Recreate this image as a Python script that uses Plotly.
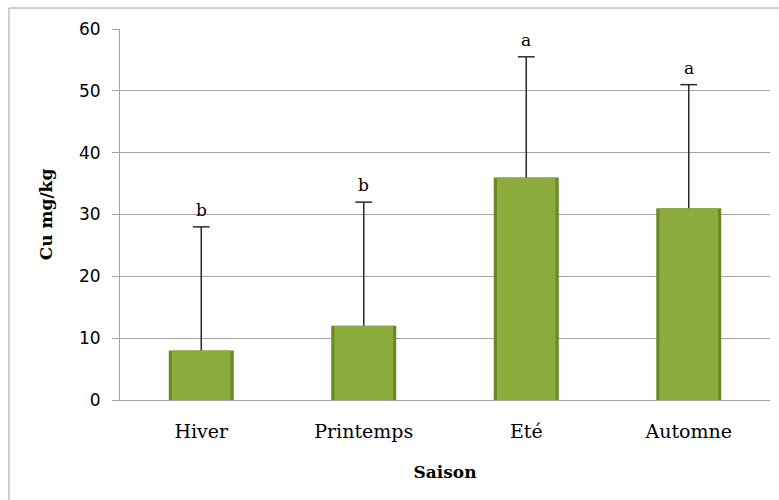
import plotly.graph_objects as go

# Copper concentration by season (mean and upper standard deviation)
seasons = ["Hiver", "Printemps", "Eté", "Automne"]
cu_mean = [8, 12, 36, 31]
cu_err = [20, 20, 19.5, 20]
groups = ["b", "b", "a", "a"]

GRID = "#a3a3a3"
SERIF = "DejaVu Serif"
SANS = "DejaVu Sans"
WHISKER = "#2a2a2a"

upper = [m + e for m, e in zip(cu_mean, cu_err)]

fig = go.Figure()

# darker outer bar gives the bevelled edge, lighter inner bar the face
fig.add_trace(go.Bar(
    x=seasons, y=cu_mean, width=0.4,
    marker=dict(color="#6a8a27", line=dict(width=0)),
    hoverinfo="skip", showlegend=False,
))
fig.add_trace(go.Bar(
    x=seasons, y=cu_mean, width=0.36,
    marker=dict(color="#8cad3d", line=dict(width=0)),
    error_y=dict(type="data", array=cu_err, symmetric=False,
                 arrayminus=[0] * len(cu_err),
                 color=WHISKER, thickness=1.5, width=0),
    showlegend=False,
))

# caps only at the upper end of each whisker
fig.add_trace(go.Scatter(
    x=seasons, y=upper, mode="markers",
    marker=dict(symbol="line-ew", size=12,
                line=dict(color=WHISKER, width=1.5)),
    hoverinfo="skip", showlegend=False,
))

# significance letters above the error bars
for s, u, g in zip(seasons, upper, groups):
    fig.add_annotation(
        x=s, y=u, text=g, showarrow=False,
        yanchor="bottom", yshift=5,
        font=dict(family=SERIF, size=17, color="#000"),
    )

# outer chart frame
fig.add_shape(
    type="rect", xref="paper", yref="paper",
    x0=-0.1708, x1=1.2, y0=-0.5, y1=1.0566,
    line=dict(color="#a0a0a0", width=1), fillcolor="rgba(0,0,0,0)",
    layer="below",
)

fig.update_layout(
    width=779, height=500,
    margin=dict(l=120, r=9, t=29, b=100),
    paper_bgcolor="white", plot_bgcolor="white",
    barmode="overlay", bargap=0.6,
    xaxis=dict(
        showline=True, linecolor=GRID, linewidth=1,
        ticks="", ticklabelstandoff=14,
        tickfont=dict(family=SERIF, size=19, color="#000"),
        title=dict(text="<b>Saison</b>", standoff=25,
                   font=dict(family=SERIF, size=17, color="#000")),
    ),
    yaxis=dict(
        range=[0, 60], dtick=10,
        showgrid=True, gridcolor=GRID, gridwidth=1,
        showline=True, linecolor=GRID, linewidth=1,
        ticks="outside", ticklen=7, tickcolor=GRID,
        ticklabelstandoff=8,
        tickfont=dict(family=SANS, size=17, color="#000"),
        zeroline=False,
        title=dict(text="<b>Cu mg/kg</b>", standoff=22,
                   font=dict(family=SERIF, size=17, color="#000")),
    ),
)

fig.write_html("out.html")
